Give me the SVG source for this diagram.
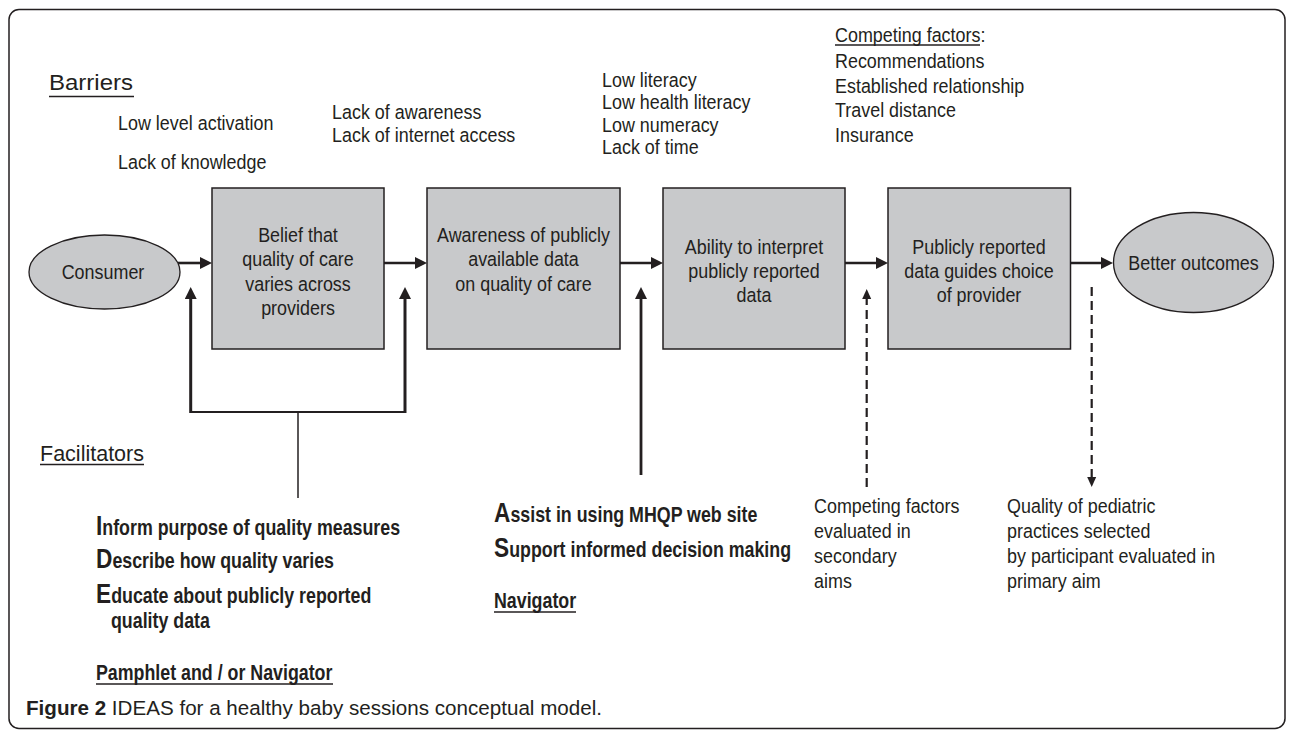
<svg xmlns="http://www.w3.org/2000/svg" width="1292" height="730" viewBox="0 0 1292 730">
<defs>
<marker id="ah" viewBox="0 0 12 12" refX="6" refY="6" markerWidth="12" markerHeight="12" markerUnits="userSpaceOnUse" orient="auto"><path d="M0,0 L12,6 L0,12 z" fill="#231f20"/></marker>
<marker id="ahs" viewBox="0 0 10 10" refX="5" refY="5" markerWidth="10" markerHeight="10" markerUnits="userSpaceOnUse" orient="auto"><path d="M0,0.5 L10,5 L0,9.5 z" fill="#231f20"/></marker>
</defs>
<style>
text{font-family:"Liberation Sans",Arial,Helvetica,sans-serif;fill:#231f20}
.t{font-size:19.5px}
.m{font-size:19.5px;text-anchor:middle}
.h{font-size:22.5px}
.b{font-size:22px;font-weight:bold}
.big{font-size:28px}
.ul{stroke:#231f20;stroke-width:1.4}
.box{fill:#c8c9cb;stroke:#231f20;stroke-width:1.5}
.ell{fill:#c8c9cb;stroke:#231f20;stroke-width:1.3}
.arr{stroke:#231f20;stroke-width:2.6;fill:none}
.dash{stroke:#231f20;stroke-width:2.2;stroke-dasharray:9 5;fill:none}
.frame{fill:none;stroke:#231f20;stroke-width:1.5}
</style>
<rect class="frame" x="9" y="9.5" width="1276" height="719" rx="10"/>

<g id="barriers">
<text class="h" x="49" y="90" textLength="84" lengthAdjust="spacingAndGlyphs">Barriers</text>
<line class="ul" x1="49" y1="96.5" x2="134" y2="96.5"/>
<text class="t" transform="translate(118,129.5) scale(0.92,1)">Low level activation</text>
<text class="t" transform="translate(118,168.5) scale(0.92,1)">Lack of knowledge</text>
<text class="t" transform="translate(332,118.5) scale(0.92,1)">Lack of awareness</text>
<text class="t" transform="translate(332,141.5) scale(0.92,1)">Lack of internet access</text>
<text class="t" transform="translate(602,86.5) scale(0.92,1)">Low literacy</text>
<text class="t" transform="translate(602,109) scale(0.92,1)">Low health literacy</text>
<text class="t" transform="translate(602,131.5) scale(0.92,1)">Low numeracy</text>
<text class="t" transform="translate(602,154) scale(0.92,1)">Lack of time</text>
<text class="t" transform="translate(835,41.5) scale(0.92,1)">Competing factors:</text>
<line class="ul" x1="835" y1="45" x2="980" y2="45"/>
<text class="t" transform="translate(835,67.5) scale(0.92,1)">Recommendations</text>
<text class="t" transform="translate(835,92.5) scale(0.92,1)">Established relationship</text>
<text class="t" transform="translate(835,117) scale(0.92,1)">Travel distance</text>
<text class="t" transform="translate(835,141.5) scale(0.92,1)">Insurance</text>
</g>

<g id="consumer">
<ellipse class="ell" cx="104.5" cy="272" rx="75.5" ry="37"/>
<text class="m" transform="translate(103,278.5) scale(0.92,1)">Consumer</text>
</g>
<g id="belief">
<rect class="box" x="212" y="188" width="172" height="161"/>
<text class="m" transform="translate(298,241.5) scale(0.92,1)">Belief that</text>
<text class="m" transform="translate(298,266) scale(0.92,1)">quality of care</text>
<text class="m" transform="translate(298,290.5) scale(0.92,1)">varies across</text>
<text class="m" transform="translate(298,315) scale(0.92,1)">providers</text>
</g>
<g id="awareness">
<rect class="box" x="427" y="188" width="193" height="161"/>
<text class="m" transform="translate(523.5,241.5) scale(0.92,1)">Awareness of publicly</text>
<text class="m" transform="translate(523.5,266) scale(0.92,1)">available data</text>
<text class="m" transform="translate(523.5,290.5) scale(0.92,1)">on quality of care</text>
</g>
<g id="ability">
<rect class="box" x="663" y="188" width="182" height="161"/>
<text class="m" transform="translate(754,253.5) scale(0.92,1)">Ability to interpret</text>
<text class="m" transform="translate(754,277.5) scale(0.92,1)">publicly reported</text>
<text class="m" transform="translate(754,301.5) scale(0.92,1)">data</text>
</g>
<g id="choice">
<rect class="box" x="888" y="188" width="182.5" height="161"/>
<text class="m" transform="translate(979,253.5) scale(0.92,1)">Publicly reported</text>
<text class="m" transform="translate(979,277.5) scale(0.92,1)">data guides choice</text>
<text class="m" transform="translate(979,301.5) scale(0.92,1)">of provider</text>
</g>
<g id="outcomes">
<ellipse class="ell" cx="1193.5" cy="262.5" rx="80" ry="50"/>
<text class="m" transform="translate(1193.5,269.5) scale(0.92,1)">Better outcomes</text>
</g>

<g id="connectors">
<path class="arr" d="M178,263 H206" marker-end="url(#ah)"/>
<path class="arr" d="M384,263 H421" marker-end="url(#ah)"/>
<path class="arr" d="M620,263 H657" marker-end="url(#ah)"/>
<path class="arr" d="M845,263 H882" marker-end="url(#ah)"/>
<path class="arr" d="M1070.5,263 H1107" marker-end="url(#ah)"/>
<path class="arr" style="stroke-width:3" d="M190.7,413 V293" marker-end="url(#ah)"/>
<path class="arr" style="stroke-width:3" d="M405,413 V293" marker-end="url(#ah)"/>
<path class="arr" style="stroke-width:2" d="M190.7,412 H405"/>
<path class="arr" style="stroke-width:1.5" d="M298,412 V498"/>
<path class="arr" style="stroke-width:2.8" d="M641,475 V293" marker-end="url(#ah)"/>
<path class="dash" d="M866.7,487 V294" marker-end="url(#ahs)"/>
<path class="dash" d="M1091.7,287 V482" marker-end="url(#ahs)"/>
</g>

<g id="facilitators">
<text class="h" x="40" y="461" textLength="104" lengthAdjust="spacingAndGlyphs">Facilitators</text>
<line class="ul" x1="40" y1="464.5" x2="144" y2="464.5"/>
<text class="b" transform="translate(96,535) scale(0.81,1)"><tspan class="big">I</tspan>nform purpose of quality measures</text>
<text class="b" transform="translate(96,568) scale(0.81,1)"><tspan class="big">D</tspan>escribe how quality varies</text>
<text class="b" transform="translate(96,603) scale(0.81,1)"><tspan class="big">E</tspan>ducate about publicly reported</text>
<text class="b" transform="translate(111,628) scale(0.81,1)">quality data</text>
<text class="b" transform="translate(96,680) scale(0.81,1)">Pamphlet and / or Navigator</text>
<line class="ul" x1="96" y1="684" x2="333" y2="684"/>
<text class="b" transform="translate(494,522) scale(0.81,1)"><tspan class="big">A</tspan>ssist in using MHQP web site</text>
<text class="b" transform="translate(494,557) scale(0.81,1)"><tspan class="big">S</tspan>upport informed decision making</text>
<text class="b" transform="translate(494,608) scale(0.81,1)">Navigator</text>
<line class="ul" x1="494" y1="612" x2="576" y2="612"/>
</g>

<g id="evaluation">
<text class="t" transform="translate(814,513) scale(0.92,1)">Competing factors</text>
<text class="t" transform="translate(814,538) scale(0.92,1)">evaluated in</text>
<text class="t" transform="translate(814,563) scale(0.92,1)">secondary</text>
<text class="t" transform="translate(814,588) scale(0.92,1)">aims</text>
<text class="t" transform="translate(1007,513) scale(0.92,1)">Quality of pediatric</text>
<text class="t" transform="translate(1007,538) scale(0.92,1)">practices selected</text>
<text class="t" transform="translate(1007,563) scale(0.92,1)">by participant evaluated in</text>
<text class="t" transform="translate(1007,588) scale(0.92,1)">primary aim</text>
</g>

<g id="caption">
<text x="26" y="715" style="font-size:20.5px" textLength="576" lengthAdjust="spacingAndGlyphs"><tspan font-weight="bold">Figure 2</tspan> IDEAS for a healthy baby sessions conceptual model.</text>
</g>
</svg>
